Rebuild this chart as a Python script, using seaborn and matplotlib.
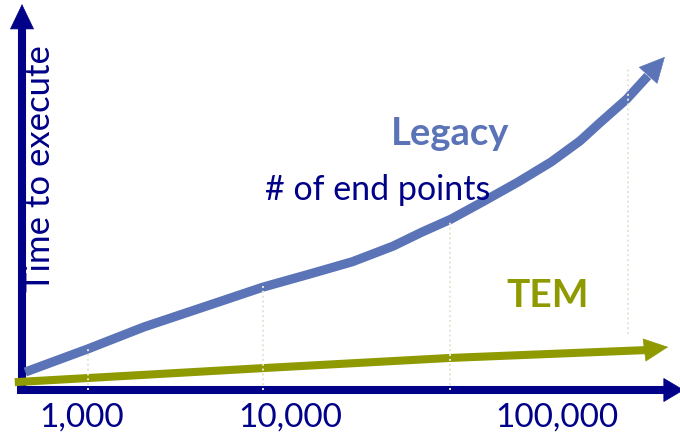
import matplotlib
matplotlib.use("Agg")
import matplotlib.pyplot as plt
import seaborn as sns
import pandas as pd

# ---- data (abstract units: x 0-100 along "# of end points", y 0-100 "time") ----
legacy_x = [0.5, 10.0, 18.5, 28.1, 36.6, 43.8, 50.2, 56.4, 60.8, 65.2, 70.2, 75.4, 80.4, 84.8, 87.8, 91.9, 95.1]
legacy_y = [4.6, 10.5, 16.1, 21.5, 26.3, 29.7, 32.8, 36.8, 40.4, 43.7, 48.3, 53.2, 58.3, 63.7, 68.3, 74.4, 80.3]
legacy_tip = (97.7, 85.2)

tem_x = [-1.1, 36.6, 65.1, 94.7]
tem_y = [2.0, 5.6, 8.2, 10.2]
tem_tip = (98.2, 11.0)

tick_labels = ["1,000", "10,000", "100,000"]
tick_pos = [9.1, 40.7, 81.3]

grid_x = [10.0, 36.6, 65.0, 92.1]
grid_lo = [0.0, 0.0, 0.0, 14.3]
grid_hi = [10.8, 26.6, 43.5, 82.6]

NAVY = "#000088"
BLUE = "#5B73B7"
OLIVE = "#8E9A00"

sns.set_theme(style="white")
plt.rcParams["font.family"] = ["Lato", "DejaVu Sans"]

fig = plt.figure(figsize=(6.8, 4.35), dpi=100)
W, H = 680, 435
ax = fig.add_axes([22 / W, (H - 391) / H, 658 / W, 391 / H])
ax.set_xlim(0, 100)
ax.set_ylim(0, 100)
ax.axis("off")

# axes arrows
ax.plot([0, 0], [-1.0, 92.6], color=NAVY, lw=5.8, solid_capstyle="butt", clip_on=False, zorder=2)
ax.annotate("", xy=(0, 98.7), xytext=(0, 92.0),
            arrowprops=dict(arrowstyle="-|>,head_length=17.3,head_width=8.3", mutation_scale=1,
                            lw=0.5, color=NAVY, shrinkA=0, shrinkB=0), annotation_clip=False, zorder=2)
ax.plot([-0.8, 98.3], [0, 0], color=NAVY, lw=5.8, solid_capstyle="butt", clip_on=False, zorder=2)
ax.annotate("", xy=(100.6, 0), xytext=(97.5, 0),
            arrowprops=dict(arrowstyle="-|>,head_length=14,head_width=8.3", mutation_scale=1,
                            lw=0.5, color=NAVY, shrinkA=0, shrinkB=0), annotation_clip=False, zorder=2)

# series
df_leg = pd.DataFrame({"x": legacy_x, "y": legacy_y})
df_tem = pd.DataFrame({"x": tem_x, "y": tem_y})
sns.lineplot(data=df_leg, x="x", y="y", ax=ax, color=BLUE, lw=6.6, sort=False,
             solid_capstyle="butt", solid_joinstyle="round", clip_on=False, zorder=3)
ax.annotate("", xy=legacy_tip, xytext=(legacy_x[-2], legacy_y[-2]),
            arrowprops=dict(arrowstyle="-|>,head_length=17.3,head_width=8.6", mutation_scale=1,
                            lw=0.5, color=BLUE, shrinkA=0, shrinkB=0), annotation_clip=False, zorder=3)
sns.lineplot(data=df_tem, x="x", y="y", ax=ax, color=OLIVE, lw=5.8, sort=False,
             solid_capstyle="butt", clip_on=False, zorder=4)
ax.annotate("", xy=tem_tip, xytext=(tem_x[-1] - 0.5, tem_y[-1] - 0.05),
            arrowprops=dict(arrowstyle="-|>,head_length=16.6,head_width=8.0", mutation_scale=1,
                            lw=0.5, color=OLIVE, shrinkA=0, shrinkB=0), annotation_clip=False, zorder=4)

# dotted guide lines
ax.vlines(grid_x, grid_lo, grid_hi, colors="#E4E4D6", linestyles=(0, (1, 1.5)), lw=1.4, zorder=5)

# texts
for lab, pos in zip(tick_labels, tick_pos):
    ax.text(pos, -9.2, lab, ha="center", va="baseline", fontsize=24, color=NAVY, clip_on=False)

ax.text(4.3, 56.9, "Time to execute", rotation=90, rotation_mode="anchor",
        ha="center", va="baseline", fontsize=25, color=NAVY)
ax.text(54.0, 48.8, "# of end points", ha="center", va="baseline", fontsize=24.5, color=NAVY)
ax.text(65.0, 62.9, "Legacy", ha="center", va="baseline", fontsize=27.5, fontweight="bold", color=BLUE)
ax.text(79.9, 21.5, "TEM", ha="center", va="baseline", fontsize=28, fontweight="bold", color=OLIVE)

fig.savefig("out.png", dpi=100)
